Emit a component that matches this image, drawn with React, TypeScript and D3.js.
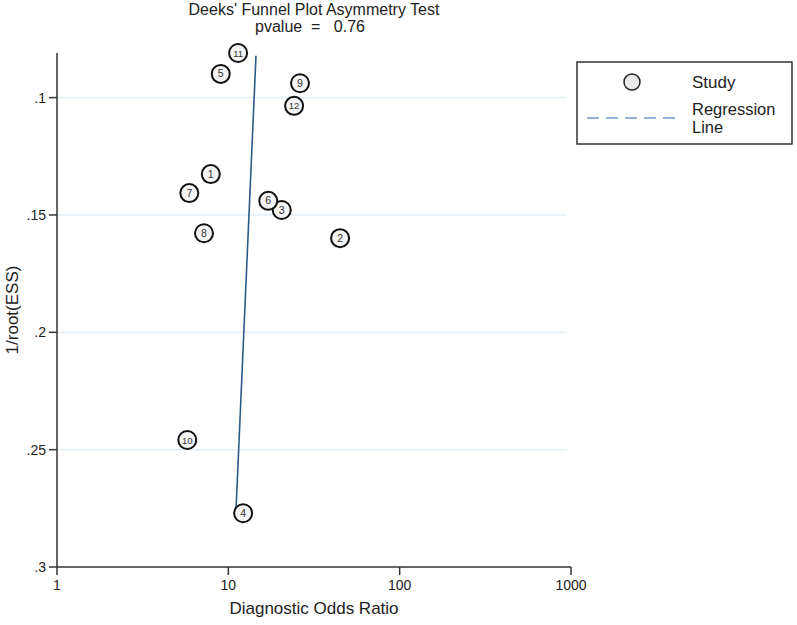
import React from "react";
import * as d3 from "d3";

const studyIds = ["1", "2", "3", "4", "5", "6", "7", "8", "9", "10", "11", "12"];
const oddsRatios = [7.9, 44.9, 20.5, 12.2, 9.03, 17.1, 5.92, 7.21, 26.2, 5.76, 11.4, 24.2];
const invRootEss = [0.1326, 0.1599, 0.1479, 0.2771, 0.0899, 0.144, 0.1407, 0.1578, 0.0939, 0.2459, 0.081, 0.1035];

const regressionOR = [14.5, 11.1];
const regressionESS = [0.0822, 0.2749];

const xTicks = [1, 10, 100, 1000];
const xTickLabels = ["1", "10", "100", "1000"];
const yTicks = [0.1, 0.15, 0.2, 0.25, 0.3];
const yTickLabels = [".1", ".15", ".2", ".25", ".3"];

const titleLine1 = "Deeks' Funnel Plot Asymmetry Test";
const titleLine2 = "pvalue  =   0.76";
const xTitle = "Diagnostic Odds Ratio";
const yTitle = "1/root(ESS)";
const legendItems = ["Study", "Regression", "Line"];

const FONT = "'Liberation Sans', Arial, Helvetica, sans-serif";

export default function App() {
  const W = 797;
  const H = 625;
  const left = 57;
  const right = 571;
  const top = 53;
  const bottom = 567;

  const x = d3.scaleLog().domain([1, 1000]).range([left, right]);
  const y = d3.scaleLinear().domain([0.081, 0.3]).range([top, bottom]);

  const line = d3
    .line<number>()
    .x((_, i) => x(regressionOR[i]))
    .y((d) => y(d));

  const gridVals = yTicks.filter((v) => v < 0.3);

  return (
    <svg
      width={W}
      height={H}
      style={{ position: "absolute", left: 0, top: 0, background: "#fff" }}
      fontFamily={FONT}
    >
      <rect x={0} y={0} width={W} height={H} fill="#fff" />
      {/* title */}
      <text x={314} y={14.5} textAnchor="middle" fontSize={16} fill="#222">
        {titleLine1}
      </text>
      <text x={310} y={31.5} textAnchor="middle" fontSize={16} fill="#222" style={{ whiteSpace: "pre" }}>
        {titleLine2}
      </text>

      {/* gridlines */}
      {gridVals.map((v) => (
        <line key={"g" + v} x1={left} x2={right - 4} y1={y(v)} y2={y(v)} stroke="#e2eef3" strokeWidth={1.5} />
      ))}

      {/* regression line */}
      <path d={line(regressionESS) || ""} fill="none" stroke="#2b5a88" strokeWidth={1.6} />

      {/* points */}
      {studyIds.map((id, i) => (
        <g key={"p" + id}>
          <circle cx={x(oddsRatios[i])} cy={y(invRootEss[i])} r={9} fill="#f4f4f4" stroke="#111" strokeWidth={2} />
          <text
            x={x(oddsRatios[i])}
            y={y(invRootEss[i]) + 3.5}
            textAnchor="middle"
            fontSize={id.length > 1 ? 9.5 : 10.5}
            fill="#333"
          >
            {id}
          </text>
        </g>
      ))}

      {/* y axis */}
      <line x1={left} x2={left} y1={top} y2={bottom} stroke="#333" strokeWidth={1.5} />
      {yTicks.map((v, i) => (
        <g key={"yt" + v}>
          <line x1={left - 8} x2={left} y1={y(v)} y2={y(v)} stroke="#333" strokeWidth={1.5} />
          <text x={left - 11} y={y(v) + 5} textAnchor="end" fontSize={14} fill="#222">
            {yTickLabels[i]}
          </text>
        </g>
      ))}
      <text
        transform={`translate(18, ${(top + bottom) / 2}) rotate(-90)`}
        textAnchor="middle"
        fontSize={17}
        fill="#222"
      >
        {yTitle}
      </text>

      {/* x axis */}
      <line x1={left} x2={right} y1={bottom} y2={bottom} stroke="#333" strokeWidth={1.5} />
      {xTicks.map((v, i) => (
        <g key={"xt" + v}>
          <line x1={x(v)} x2={x(v)} y1={bottom} y2={bottom + 8} stroke="#333" strokeWidth={1.5} />
          <text x={x(v)} y={bottom + 23} textAnchor="middle" fontSize={14} fill="#222">
            {xTickLabels[i]}
          </text>
        </g>
      ))}
      <text x={(left + right) / 2} y={bottom + 47} textAnchor="middle" fontSize={17} fill="#222">
        {xTitle}
      </text>

      {/* legend */}
      <rect x={577} y={62} width={215} height={82} fill="#fff" stroke="#333" strokeWidth={1.5} />
      <circle cx={632} cy={82} r={8} fill="#ebebeb" stroke="#222" strokeWidth={1.5} />
      <text x={692} y={88} fontSize={17} fill="#222">
        {legendItems[0]}
      </text>
      <line x1={587} x2={677} y1={118} y2={118} stroke="#6f9bc6" strokeWidth={1.5} strokeDasharray="12,7" />
      <text x={692} y={115} fontSize={16.5} fill="#222">
        {legendItems[1]}
      </text>
      <text x={692} y={133} fontSize={16.5} fill="#222">
        {legendItems[2]}
      </text>
    </svg>
  );
}
